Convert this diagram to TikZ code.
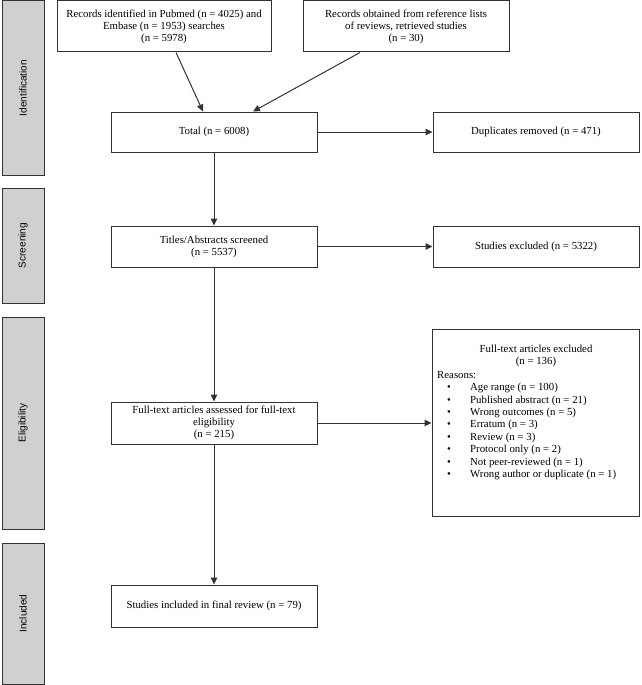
\documentclass[tikz,border=0pt]{standalone}
\usepackage{fontspec}
\setmainfont{Liberation Serif}
\newfontfamily\sidefont{Liberation Sans}
\usetikzlibrary{arrows.meta}
\definecolor{edge}{HTML}{333333}
\definecolor{barfill}{HTML}{D0D0D0}
\tikzset{
  box/.style={draw=edge, line width=1pt, fill=white, align=center, inner sep=2pt,
    font=\fontsize{10.8}{12}\selectfont, text=black},
  bar/.style={draw=edge, line width=1pt, fill=barfill, minimum width=42pt,
    font=\sidefont\fontsize{10}{12}\selectfont},
  sidelabel/.style={rotate=90, font=\sidefont\fontsize{10}{12}\selectfont},
  conn/.style={draw=edge, line width=1pt, -{Triangle[length=7pt,width=6.5pt]}}
}
\begin{document}
\begin{tikzpicture}[x=1pt,y=-1pt]
\useasboundingbox (0,0) rectangle (641,685);
% side bars
\node[bar, minimum height=174pt] (bid) at (23,88) {};
\node[sidelabel] (lid) at (bid.center) {Identification};
\node[bar, minimum height=115pt] (bsc) at (23,245.5) {};
\node[sidelabel] (lsc) at (bsc.center) {Screening};
\node[bar, minimum height=212pt] (bel) at (23,423) {};
\node[sidelabel] (lel) at (bel.center) {Eligibility};
\node[bar, minimum height=141pt] (bin) at (23,613.5) {};
\node[sidelabel] (lin) at (bin.center) {Included};
% main boxes
\node[box, minimum width=214pt, minimum height=51pt] (A) at (164,26.5)
  {Records identified in Pubmed (n = 4025) and\\Embase (n = 1953) searches\\(n = 5978)};
\node[box, minimum width=206pt, minimum height=51pt] (B) at (406,26.5)
  {Records obtained from reference lists\\of reviews, retrieved studies\\(n = 30)};
\node[box, minimum width=206pt, minimum height=40pt] (tot) at (214,132) {Total (n = 6008)};
\node[box, minimum width=206pt, minimum height=40pt] (dup) at (536,132) {Duplicates removed (n = 471)};
\node[box, minimum width=206pt, minimum height=41pt] (tit) at (214,246.5) {Titles/Abstracts screened\\(n = 5537)};
\node[box, minimum width=206pt, minimum height=41pt] (sex) at (536,246.5) {Studies excluded (n = 5322)};
\node[box, minimum width=206pt, minimum height=42pt] (ft) at (214,423) {Full-text articles assessed for full-text\\eligibility\\(n = 215)};
\node[box, minimum width=207pt, minimum height=187pt] (fex) at (535.5,422.5) {};
\node[box, minimum width=206pt, minimum height=42pt] (inc) at (214,606) {Studies included in final review (n = 79)};
% text of excluded box
\node[align=center, font=\fontsize{10.8}{12}\selectfont, inner sep=0pt, anchor=north] (fext) at (536,345)
  {Full-text articles excluded\\(n = 136)};
\node[align=left, font=\fontsize{10.8}{12.4}\selectfont, inner sep=0pt, anchor=north west] (fexr) at (437,371)
  {Reasons:\\
   \hspace*{10pt}\makebox[23pt][l]{\textbullet}Age range (n = 100)\\
   \hspace*{10pt}\makebox[23pt][l]{\textbullet}Published abstract (n = 21)\\
   \hspace*{10pt}\makebox[23pt][l]{\textbullet}Wrong outcomes (n = 5)\\
   \hspace*{10pt}\makebox[23pt][l]{\textbullet}Erratum (n = 3)\\
   \hspace*{10pt}\makebox[23pt][l]{\textbullet}Review (n = 3)\\
   \hspace*{10pt}\makebox[23pt][l]{\textbullet}Protocol only (n = 2)\\
   \hspace*{10pt}\makebox[23pt][l]{\textbullet}Not peer-reviewed (n = 1)\\
   \hspace*{10pt}\makebox[23pt][l]{\textbullet}Wrong author or duplicate (n = 1)};
% connectors
\draw[conn] ([xshift=12pt]A.south) -- ([xshift=-11pt]tot.north);
\draw[conn] ([xshift=-46pt]B.south) -- ([xshift=39pt]tot.north);
\draw[conn] (tot.east) -- (dup.west);
\draw[conn] (tot.south) -- (tit.north);
\draw[conn] (tit.east) -- (sex.west);
\draw[conn] (tit.south) -- (ft.north);
\draw[conn] (ft.east) -- (ft.east -| fex.west);
\draw[conn] (ft.south) -- (inc.north);
\end{tikzpicture}
\end{document}
